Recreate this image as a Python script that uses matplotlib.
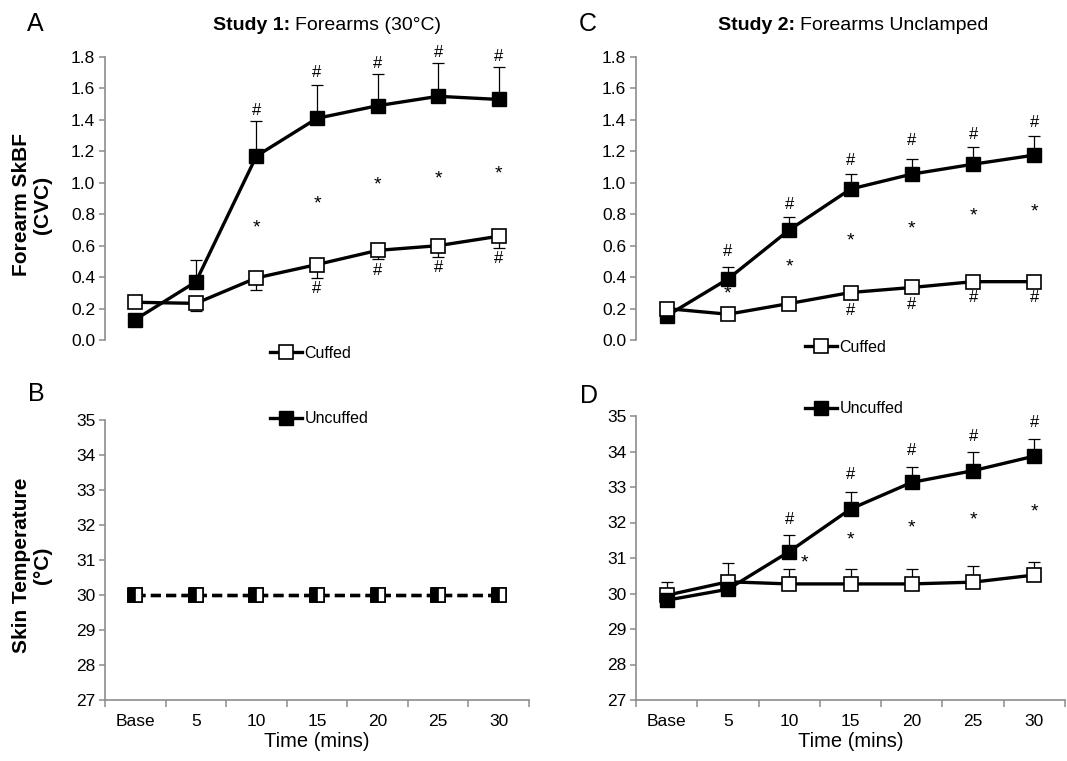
import matplotlib
matplotlib.use("Agg")
import matplotlib.pyplot as plt
from matplotlib.ticker import FixedLocator, FormatStrFormatter, NullFormatter
import numpy as np

plt.rcParams['font.family'] = ['Liberation Sans', 'DejaVu Sans']

# ---------------------------------------------------------------
# data
# ---------------------------------------------------------------
time_labels = ['Base', '5', '10', '15', '20', '25', '30']

# Study 1 : forearm SkBF (CVC)
s1_uncuffed = [0.13, 0.37, 1.17, 1.41, 1.49, 1.55, 1.53]
s1_uncuffed_err = [0.0, 0.14, 0.225, 0.215, 0.205, 0.215, 0.205]
s1_cuffed = [0.24, 0.233, 0.395, 0.48, 0.57, 0.60, 0.66]
s1_cuffed_err = [0.0, 0.05, 0.077, 0.087, 0.057, 0.075, 0.072]

# Study 1 : skin temperature (clamped)
s1_temp_uncuffed = [30, 30, 30, 30, 30, 30, 30]
s1_temp_cuffed = [30, 30, 30, 30, 30, 30, 30]

# Study 2 : forearm SkBF (CVC)
s2_uncuffed = [0.153, 0.388, 0.70, 0.96, 1.055, 1.118, 1.176]
s2_uncuffed_err = [0.0, 0.074, 0.081, 0.096, 0.095, 0.111, 0.121]
s2_cuffed = [0.20, 0.164, 0.232, 0.302, 0.334, 0.371, 0.371]

# Study 2 : skin temperature
s2_temp_uncuffed = [29.81, 30.12, 31.18, 32.38, 33.13, 33.46, 33.87]
s2_temp_uncuffed_err = [0.0, 0.0, 0.46, 0.48, 0.44, 0.52, 0.49]
s2_temp_cuffed = [29.95, 30.33, 30.27, 30.27, 30.27, 30.32, 30.52]
s2_temp_cuffed_err = [0.38, 0.52, 0.42, 0.42, 0.41, 0.45, 0.38]

# significance marks (x index, y value)
a_hash_x = [2, 3, 4, 5, 6, 3, 4, 5, 6]
a_hash_y = [1.46, 1.70, 1.76, 1.83, 1.80, 0.33, 0.445, 0.46, 0.52]
a_star_x = [2, 3, 4, 5, 6]
a_star_y = [0.71, 0.864, 0.985, 1.023, 1.053]

c_hash_x = [1, 2, 3, 4, 5, 6, 3, 4, 5, 6]
c_hash_y = [0.56, 0.863, 1.144, 1.268, 1.31, 1.383, 0.185, 0.228, 0.27, 0.27]
c_star_x = [1, 2, 3, 4, 5, 6]
c_star_y = [0.292, 0.462, 0.628, 0.707, 0.786, 0.814]

d_hash_x = [2, 3, 4, 5, 6]
d_hash_y = [32.09, 33.35, 34.03, 34.43, 34.81]
d_star_x = [2.25, 3, 4, 5, 6]
d_star_y = [30.85, 31.5, 31.84, 32.08, 32.31]

# ---------------------------------------------------------------
W, H = 1067, 761
fig = plt.figure(figsize=(W / 100, H / 100), dpi=100)


def box(x0, x1, ytop, ybot):
    return [x0 / W, 1 - ybot / H, (x1 - x0) / W, (ybot - ytop) / H]


axA = fig.add_axes(box(105, 529, 57, 340))
axB = fig.add_axes(box(105, 529, 420, 700))
axC = fig.add_axes(box(636, 1065, 57, 340))
axD = fig.add_axes(box(636, 1065, 416, 700))

GREY = '#8c8c8c'
x = np.arange(len(time_labels))
LW = 2.4
MS = 10.5


def style(ax, ylim, yticks, fmt, bottom):
    ax.set_xlim(-0.5, len(time_labels) - 0.5)
    ax.set_ylim(*ylim)
    ax.set_yticks(yticks)
    ax.yaxis.set_major_formatter(FormatStrFormatter(fmt))
    for s in ['top', 'right']:
        ax.spines[s].set_visible(False)
    ax.spines['left'].set_color(GREY)
    ax.spines['left'].set_linewidth(1.2)
    ax.tick_params(axis='y', direction='out', length=4, width=1.1,
                   color=GREY, labelsize=12.5, pad=3)
    if bottom:
        ax.spines['bottom'].set_color(GREY)
        ax.spines['bottom'].set_linewidth(1.2)
        ax.xaxis.set_major_locator(FixedLocator(np.arange(-0.5, len(time_labels), 1.0)))
        ax.xaxis.set_major_formatter(NullFormatter())
        ax.xaxis.set_minor_locator(FixedLocator(x))
        ax.set_xticklabels(time_labels, minor=True)
        ax.tick_params(axis='x', which='major', direction='out', length=5,
                       width=1.1, color=GREY)
        ax.tick_params(axis='x', which='minor', length=0, labelsize=12.5, pad=10)
        ax.set_xlabel('Time (mins)', fontsize=14.5, labelpad=2)
    else:
        ax.spines['bottom'].set_visible(False)
        ax.set_xticks([])


def errs(ax, y, err, up=True):
    z = np.zeros(len(y))
    e = [z, err] if up else [err, z]
    ax.errorbar(x, y, yerr=e, fmt='none', ecolor='black', elinewidth=0.9,
                capsize=4.5, capthick=0.9, zorder=1)


def marks(ax, hx, hy, sx, sy):
    for xi, yi in zip(hx, hy):
        ax.text(xi, yi, '#', ha='center', va='center', fontsize=12)
    for xi, yi in zip(sx, sy):
        ax.text(xi, yi, '*', ha='center', va='center', fontsize=14)


# Panel A
errs(axA, s1_uncuffed, s1_uncuffed_err, up=True)
errs(axA, s1_cuffed, s1_cuffed_err, up=False)
unc_line, = axA.plot(x, s1_uncuffed, '-s', color='black', lw=LW, ms=MS,
                     mfc='black', mec='black', label='Uncuffed', zorder=3)
cuf_line, = axA.plot(x, s1_cuffed, '-s', color='black', lw=LW, ms=MS,
                     mfc='white', mec='black', mew=1.2, label='Cuffed', zorder=3)
marks(axA, a_hash_x, a_hash_y, a_star_x, a_star_y)
style(axA, (0, 1.8), np.arange(0, 1.81, 0.2), '%.1f', False)

# Panel B
axB.plot(x, s1_temp_cuffed, 's', color='black', ls=(0, (3, 1.6)), lw=LW, ms=MS,
         mfc='white', mec='black', mew=1.2, zorder=3)
axB.plot(x, s1_temp_uncuffed, 's', color='black', ls=(0, (3, 1.6)), lw=LW, ms=MS,
         fillstyle='left', mfc='black', mfcalt='white', mec='black', mew=1.2,
         zorder=4)
style(axB, (27, 35), np.arange(27, 36, 1), '%d', True)

# Panel C
errs(axC, s2_uncuffed, s2_uncuffed_err, up=True)
axC.plot(x, s2_uncuffed, '-s', color='black', lw=LW, ms=MS,
         mfc='black', mec='black', zorder=3)
axC.plot(x, s2_cuffed, '-s', color='black', lw=LW, ms=MS,
         mfc='white', mec='black', mew=1.2, zorder=3)
marks(axC, c_hash_x, c_hash_y, c_star_x, c_star_y)
style(axC, (0, 1.8), np.arange(0, 1.81, 0.2), '%.1f', False)

# Panel D
errs(axD, s2_temp_uncuffed, s2_temp_uncuffed_err, up=True)
errs(axD, s2_temp_cuffed, s2_temp_cuffed_err, up=True)
axD.plot(x, s2_temp_cuffed, '-s', color='black', lw=LW, ms=MS,
         mfc='white', mec='black', mew=1.2, zorder=3)
axD.plot(x, s2_temp_uncuffed, '-s', color='black', lw=LW, ms=MS,
         mfc='black', mec='black', zorder=3)
marks(axD, d_hash_x, d_hash_y, d_star_x, d_star_y)
style(axD, (27, 35), np.arange(27, 36, 1), '%d', True)

# legends (split the way the original does)
leg_kw = dict(frameon=False, fontsize=11.5, handlelength=2.0, handletextpad=0.15,
              borderpad=0, borderaxespad=0, numpoints=1, markerscale=0.9,
              loc='center left', bbox_transform=fig.transFigure)
fig.legend([cuf_line], ['Cuffed'], bbox_to_anchor=(270 / W, 1 - 353 / H), **leg_kw)
fig.legend([unc_line], ['Uncuffed'], bbox_to_anchor=(270 / W, 1 - 419 / H), **leg_kw)
fig.legend([cuf_line], ['Cuffed'], bbox_to_anchor=(805 / W, 1 - 347 / H), **leg_kw)
fig.legend([unc_line], ['Uncuffed'], bbox_to_anchor=(805 / W, 1 - 409 / H), **leg_kw)

# panel letters
for lab, px, py in [('A', 35, 24), ('B', 36, 394), ('C', 588, 24), ('D', 589, 396)]:
    fig.text(px / W, 1 - py / H, lab, fontsize=18, ha='center', va='center')

# titles: bold lead-in + regular remainder
fig.text(290 / W, 1 - 25 / H, 'Study 1:', fontsize=14, fontweight='bold',
         ha='right', va='center')
fig.text(295 / W, 1 - 25 / H, 'Forearms (30\u00b0C)', fontsize=14,
         ha='left', va='center')
fig.text(795 / W, 1 - 25 / H, 'Study 2:', fontsize=14, fontweight='bold',
         ha='right', va='center')
fig.text(800 / W, 1 - 25 / H, 'Forearms Unclamped', fontsize=14,
         ha='left', va='center')

# y labels
fig.text(32 / W, 1 - 205 / H, 'Forearm SkBF\n(CVC)', fontsize=15,
         fontweight='bold', rotation=90, ha='center', va='center',
         multialignment='center', linespacing=1.15)
fig.text(32 / W, 1 - 565 / H, 'Skin Temperature\n(\u00b0C)', fontsize=15,
         fontweight='bold', rotation=90, ha='center', va='center',
         multialignment='center', linespacing=1.15)

fig.savefig('out.png', dpi=100)
